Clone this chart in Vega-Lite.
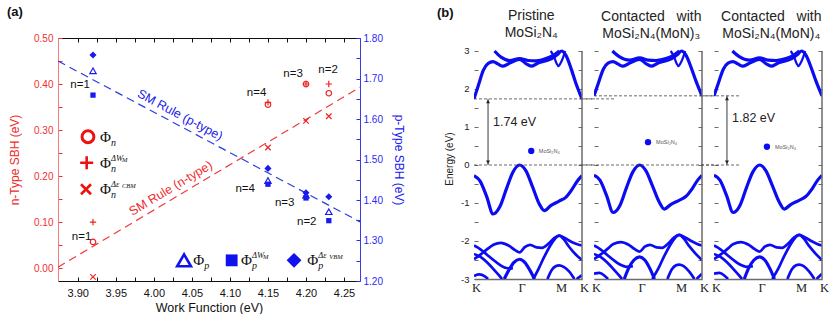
{
"$schema":"https://vega.github.io/schema/vega-lite/v6.json",
"padding":{"left":7,"top":5,"right":0,"bottom":0},
"config":{"view":{"stroke":null},"font":"Liberation Sans","point":{"opacity":1},"axis":{"grid":false,"labelFont":"Liberation Sans","titleFont":"Liberation Sans"},"text":{"font":"Liberation Sans"}},
"datasets":{
"nPts":[{"x":3.92,"y":0.057,"t":"o"},{"x":4.15,"y":0.355,"t":"o"},{"x":4.2,"y":0.4,"t":"o"},{"x":4.23,"y":0.38,"t":"o"},
{"x":3.92,"y":0.1,"t":"+"},{"x":4.15,"y":0.36,"t":"+"},{"x":4.2,"y":0.4,"t":"+"},{"x":4.23,"y":0.4,"t":"+"},
{"x":3.92,"y":-0.019,"t":"x"},{"x":4.15,"y":0.262,"t":"x"},{"x":4.2,"y":0.32,"t":"x"},{"x":4.23,"y":0.33,"t":"x"}],
"pPts":[{"x":3.92,"y":1.719,"t":"tri"},{"x":4.15,"y":1.448,"t":"tri"},{"x":4.2,"y":1.412,"t":"tri"},{"x":4.23,"y":1.371,"t":"tri"},
{"x":3.92,"y":1.659,"t":"sq"},{"x":4.15,"y":1.439,"t":"sq"},{"x":4.2,"y":1.405,"t":"sq"},{"x":4.23,"y":1.349,"t":"sq"},
{"x":3.92,"y":1.758,"t":"dia"},{"x":4.15,"y":1.478,"t":"dia"},{"x":4.2,"y":1.418,"t":"dia"},{"x":4.23,"y":1.408,"t":"dia"}],
"legN":[{"x":3.9292,"y":0.2855,"sub":"n","sup":"","sup2":""},{"x":3.9292,"y":0.229,"sub":"n","sup":"ΔW","sup2":"M"},{"x":3.9292,"y":0.1713,"sub":"n","sup":"Δε","sup2":"CBM"}],
"legP":[{"x":4.0519,"y":1.251,"sub":"p","sup":"","sup2":""},{"x":4.1146,"y":1.251,"sub":"p","sup":"ΔW","sup2":"M"},{"x":4.2018,"y":1.251,"sub":"p","sup":"Δε","sup2":"VBM"}],
"nLab":[{"x":3.903,"y":0.398,"t":"n=1"},{"x":4.135,"y":0.381,"t":"n=4"},{"x":4.183,"y":0.422,"t":"n=3"},{"x":4.229,"y":0.43,"t":"n=2"},{"x":3.905,"y":0.067,"t":"n=1"},{"x":4.12,"y":0.172,"t":"n=4"},{"x":4.172,"y":0.141,"t":"n=3"},{"x":4.201,"y":0.101,"t":"n=2"}],
"bandP":[
{"k":0,"e":1.74,"b":"c1","w":"a"},{"k":0.04,"e":2.09,"b":"c1","w":"a"},{"k":0.086,"e":2.49,"b":"c1","w":"a"},{"k":0.13,"e":2.67,"b":"c1","w":"a"},{"k":0.177,"e":2.72,"b":"c1","w":"a"},{"k":0.22,"e":2.66,"b":"c1","w":"a"},{"k":0.27,"e":2.6,"b":"c1","w":"a"},{"k":0.33,"e":2.68,"b":"c1","w":"a"},{"k":0.4226,"e":2.78,"b":"c1","w":"a"},{"k":0.48,"e":2.67,"b":"c1","w":"a"},{"k":0.53,"e":2.6,"b":"c1","w":"a"},{"k":0.59,"e":2.68,"b":"c1","w":"a"},{"k":0.65,"e":2.73,"b":"c1","w":"a"},{"k":0.72,"e":2.8,"b":"c1","w":"a"},{"k":0.77,"e":2.9,"b":"c1","w":"a"},{"k":0.81,"e":3.0,"b":"c1","w":"a"},{"k":0.85,"e":2.89,"b":"c1","w":"a"},{"k":0.9,"e":2.53,"b":"c1","w":"a"},{"k":0.94,"e":2.18,"b":"c1","w":"a"},{"k":1,"e":1.74,"b":"c1","w":"a"},
{"k":0.19,"e":3.0,"b":"c2","w":"a"},{"k":0.25,"e":2.84,"b":"c2","w":"a"},{"k":0.33,"e":2.75,"b":"c2","w":"a"},{"k":0.4226,"e":2.8,"b":"c2","w":"a"},{"k":0.5,"e":2.75,"b":"c2","w":"a"},{"k":0.575,"e":2.74,"b":"c2","w":"a"},{"k":0.667,"e":2.8,"b":"c2","w":"a"},{"k":0.743,"e":2.9,"b":"c2","w":"a"},{"k":0.79,"e":3.0,"b":"c2","w":"a"},
{"k":0.71,"e":3.0,"b":"c3","w":"c"},{"k":0.743,"e":2.84,"b":"c3","w":"c"},{"k":0.765,"e":2.67,"b":"c3","w":"c"},{"k":0.783,"e":2.6,"b":"c3","w":"c"},{"k":0.8,"e":2.67,"b":"c3","w":"c"},{"k":0.826,"e":2.84,"b":"c3","w":"c"},{"k":0.844,"e":3.0,"b":"c3","w":"c"},
{"k":0,"e":-0.28,"b":"v1","w":"a"},{"k":0.055,"e":-0.42,"b":"v1","w":"a"},{"k":0.116,"e":-0.82,"b":"v1","w":"a"},{"k":0.177,"e":-1.29,"b":"v1","w":"a"},{"k":0.239,"e":-1.1,"b":"v1","w":"a"},{"k":0.3,"e":-0.63,"b":"v1","w":"a"},{"k":0.36,"e":-0.19,"b":"v1","w":"a"},{"k":0.4226,"e":0,"b":"v1","w":"a"},{"k":0.48,"e":-0.15,"b":"v1","w":"a"},{"k":0.544,"e":-0.59,"b":"v1","w":"a"},{"k":0.605,"e":-1.03,"b":"v1","w":"a"},{"k":0.651,"e":-1.2,"b":"v1","w":"a"},{"k":0.71,"e":-1.07,"b":"v1","w":"a"},{"k":0.7886,"e":-0.95,"b":"v1","w":"a"},{"k":0.85,"e":-0.85,"b":"v1","w":"a"},{"k":0.91,"e":-0.63,"b":"v1","w":"a"},{"k":0.957,"e":-0.42,"b":"v1","w":"a"},{"k":1,"e":-0.28,"b":"v1","w":"a"},
{"k":0,"e":-2.48,"b":"v2","w":"b"},{"k":0.06,"e":-2.36,"b":"v2","w":"b"},{"k":0.12,"e":-2.22,"b":"v2","w":"b"},{"k":0.18,"e":-2.1,"b":"v2","w":"b"},{"k":0.25,"e":-2.05,"b":"v2","w":"b"},{"k":0.32,"e":-2.12,"b":"v2","w":"b"},{"k":0.38,"e":-2.24,"b":"v2","w":"b"},{"k":0.4226,"e":-2.3,"b":"v2","w":"b"},{"k":0.47,"e":-2.16,"b":"v2","w":"b"},{"k":0.52,"e":-2.1,"b":"v2","w":"b"},{"k":0.58,"e":-2.17,"b":"v2","w":"b"},{"k":0.63,"e":-2.18,"b":"v2","w":"b"},{"k":0.69,"e":-2.07,"b":"v2","w":"b"},{"k":0.74,"e":-1.93,"b":"v2","w":"b"},{"k":0.7886,"e":-1.86,"b":"v2","w":"b"},{"k":0.84,"e":-1.92,"b":"v2","w":"b"},{"k":0.9,"e":-2.02,"b":"v2","w":"b"},{"k":0.95,"e":-2.08,"b":"v2","w":"b"},{"k":1,"e":-2.12,"b":"v2","w":"b"},
{"k":0,"e":-2.12,"b":"v3","w":"b"},{"k":0.06,"e":-2.22,"b":"v3","w":"b"},{"k":0.12,"e":-2.36,"b":"v3","w":"b"},{"k":0.18,"e":-2.5,"b":"v3","w":"b"},{"k":0.24,"e":-2.63,"b":"v3","w":"b"},{"k":0.3,"e":-2.71,"b":"v3","w":"b"},{"k":0.36,"e":-2.72,"b":"v3","w":"b"},
{"k":0,"e":-2.34,"b":"v4","w":"b"},{"k":0.06,"e":-2.42,"b":"v4","w":"b"},{"k":0.12,"e":-2.56,"b":"v4","w":"b"},{"k":0.18,"e":-2.74,"b":"v4","w":"b"},{"k":0.23,"e":-2.9,"b":"v4","w":"b"},{"k":0.26,"e":-3.0,"b":"v4","w":"b"},
{"k":0.28,"e":-3.0,"b":"v5","w":"a"},{"k":0.32,"e":-2.78,"b":"v5","w":"a"},{"k":0.37,"e":-2.56,"b":"v5","w":"a"},{"k":0.4226,"e":-2.48,"b":"v5","w":"a"},{"k":0.47,"e":-2.56,"b":"v5","w":"a"},{"k":0.52,"e":-2.78,"b":"v5","w":"a"},{"k":0.56,"e":-3.0,"b":"v5","w":"a"},
{"k":0.55,"e":-3.0,"b":"v6","w":"b"},{"k":0.6,"e":-2.72,"b":"v6","w":"b"},{"k":0.65,"e":-2.42,"b":"v6","w":"b"},{"k":0.7,"e":-2.15,"b":"v6","w":"b"},{"k":0.75,"e":-1.94,"b":"v6","w":"b"},{"k":0.7886,"e":-1.86,"b":"v6","w":"b"},{"k":0.83,"e":-1.95,"b":"v6","w":"b"},{"k":0.88,"e":-2.15,"b":"v6","w":"b"},{"k":0.94,"e":-2.35,"b":"v6","w":"b"},{"k":1,"e":-2.5,"b":"v6","w":"b"},
{"k":0.68,"e":-3.0,"b":"v7","w":"b"},{"k":0.72,"e":-2.76,"b":"v7","w":"b"},{"k":0.76,"e":-2.66,"b":"v7","w":"b"},{"k":0.7886,"e":-2.64,"b":"v7","w":"b"},{"k":0.83,"e":-2.68,"b":"v7","w":"b"},{"k":0.88,"e":-2.8,"b":"v7","w":"b"},{"k":0.93,"e":-3.0,"b":"v7","w":"b"},
{"k":0,"e":-2.92,"b":"v8","w":"b"},{"k":0.05,"e":-2.88,"b":"v8","w":"b"},{"k":0.1,"e":-2.93,"b":"v8","w":"b"},{"k":0.13,"e":-3.0,"b":"v8","w":"b"},
{"k":0.95,"e":-3.0,"b":"v9","w":"b"},{"k":1,"e":-2.9,"b":"v9","w":"b"}],
"bandC":[
{"k":0,"e":1.82,"b":"c1","w":"a"},{"k":0.04,"e":2.15,"b":"c1","w":"a"},{"k":0.086,"e":2.52,"b":"c1","w":"a"},{"k":0.13,"e":2.68,"b":"c1","w":"a"},{"k":0.177,"e":2.72,"b":"c1","w":"a"},{"k":0.22,"e":2.66,"b":"c1","w":"a"},{"k":0.27,"e":2.6,"b":"c1","w":"a"},{"k":0.33,"e":2.68,"b":"c1","w":"a"},{"k":0.4226,"e":2.78,"b":"c1","w":"a"},{"k":0.48,"e":2.67,"b":"c1","w":"a"},{"k":0.53,"e":2.6,"b":"c1","w":"a"},{"k":0.59,"e":2.68,"b":"c1","w":"a"},{"k":0.65,"e":2.73,"b":"c1","w":"a"},{"k":0.72,"e":2.8,"b":"c1","w":"a"},{"k":0.77,"e":2.9,"b":"c1","w":"a"},{"k":0.81,"e":3.0,"b":"c1","w":"a"},{"k":0.85,"e":2.9,"b":"c1","w":"a"},{"k":0.9,"e":2.56,"b":"c1","w":"a"},{"k":0.94,"e":2.24,"b":"c1","w":"a"},{"k":1,"e":1.82,"b":"c1","w":"a"},
{"k":0.17,"e":3.0,"b":"c2","w":"a"},{"k":0.23,"e":2.86,"b":"c2","w":"a"},{"k":0.33,"e":2.76,"b":"c2","w":"a"},{"k":0.4226,"e":2.82,"b":"c2","w":"a"},{"k":0.5,"e":2.76,"b":"c2","w":"a"},{"k":0.575,"e":2.75,"b":"c2","w":"a"},{"k":0.667,"e":2.8,"b":"c2","w":"a"},{"k":0.743,"e":2.9,"b":"c2","w":"a"},{"k":0.79,"e":3.0,"b":"c2","w":"a"},
{"k":0.71,"e":3.0,"b":"c3","w":"c"},{"k":0.743,"e":2.84,"b":"c3","w":"c"},{"k":0.765,"e":2.67,"b":"c3","w":"c"},{"k":0.783,"e":2.6,"b":"c3","w":"c"},{"k":0.8,"e":2.67,"b":"c3","w":"c"},{"k":0.826,"e":2.84,"b":"c3","w":"c"},{"k":0.844,"e":3.0,"b":"c3","w":"c"},
{"k":0,"e":-0.27,"b":"v1","w":"a"},{"k":0.055,"e":-0.4,"b":"v1","w":"a"},{"k":0.116,"e":-0.8,"b":"v1","w":"a"},{"k":0.177,"e":-1.25,"b":"v1","w":"a"},{"k":0.239,"e":-1.07,"b":"v1","w":"a"},{"k":0.3,"e":-0.6,"b":"v1","w":"a"},{"k":0.36,"e":-0.18,"b":"v1","w":"a"},{"k":0.4226,"e":0,"b":"v1","w":"a"},{"k":0.48,"e":-0.15,"b":"v1","w":"a"},{"k":0.544,"e":-0.57,"b":"v1","w":"a"},{"k":0.605,"e":-0.98,"b":"v1","w":"a"},{"k":0.651,"e":-1.16,"b":"v1","w":"a"},{"k":0.71,"e":-1.04,"b":"v1","w":"a"},{"k":0.7886,"e":-0.93,"b":"v1","w":"a"},{"k":0.85,"e":-0.83,"b":"v1","w":"a"},{"k":0.91,"e":-0.62,"b":"v1","w":"a"},{"k":0.957,"e":-0.41,"b":"v1","w":"a"},{"k":1,"e":-0.27,"b":"v1","w":"a"},
{"k":0,"e":-2.48,"b":"v2","w":"b"},{"k":0.06,"e":-2.36,"b":"v2","w":"b"},{"k":0.12,"e":-2.22,"b":"v2","w":"b"},{"k":0.18,"e":-2.08,"b":"v2","w":"b"},{"k":0.25,"e":-2.03,"b":"v2","w":"b"},{"k":0.32,"e":-2.1,"b":"v2","w":"b"},{"k":0.38,"e":-2.22,"b":"v2","w":"b"},{"k":0.4226,"e":-2.28,"b":"v2","w":"b"},{"k":0.47,"e":-2.15,"b":"v2","w":"b"},{"k":0.52,"e":-2.1,"b":"v2","w":"b"},{"k":0.58,"e":-2.17,"b":"v2","w":"b"},{"k":0.63,"e":-2.18,"b":"v2","w":"b"},{"k":0.69,"e":-2.06,"b":"v2","w":"b"},{"k":0.74,"e":-1.91,"b":"v2","w":"b"},{"k":0.7886,"e":-1.84,"b":"v2","w":"b"},{"k":0.84,"e":-1.9,"b":"v2","w":"b"},{"k":0.9,"e":-2.0,"b":"v2","w":"b"},{"k":0.95,"e":-2.07,"b":"v2","w":"b"},{"k":1,"e":-2.12,"b":"v2","w":"b"},
{"k":0,"e":-2.12,"b":"v3","w":"b"},{"k":0.06,"e":-2.22,"b":"v3","w":"b"},{"k":0.12,"e":-2.36,"b":"v3","w":"b"},{"k":0.18,"e":-2.5,"b":"v3","w":"b"},{"k":0.24,"e":-2.62,"b":"v3","w":"b"},{"k":0.3,"e":-2.68,"b":"v3","w":"b"},{"k":0.36,"e":-2.66,"b":"v3","w":"b"},
{"k":0,"e":-2.34,"b":"v4","w":"b"},{"k":0.06,"e":-2.42,"b":"v4","w":"b"},{"k":0.12,"e":-2.56,"b":"v4","w":"b"},{"k":0.18,"e":-2.74,"b":"v4","w":"b"},{"k":0.23,"e":-2.9,"b":"v4","w":"b"},{"k":0.26,"e":-3.0,"b":"v4","w":"b"},
{"k":0.28,"e":-3.0,"b":"v5","w":"a"},{"k":0.32,"e":-2.72,"b":"v5","w":"a"},{"k":0.37,"e":-2.5,"b":"v5","w":"a"},{"k":0.4226,"e":-2.42,"b":"v5","w":"a"},{"k":0.47,"e":-2.5,"b":"v5","w":"a"},{"k":0.52,"e":-2.74,"b":"v5","w":"a"},{"k":0.56,"e":-3.0,"b":"v5","w":"a"},
{"k":0.54,"e":-3.0,"b":"v6","w":"b"},{"k":0.6,"e":-2.7,"b":"v6","w":"b"},{"k":0.65,"e":-2.4,"b":"v6","w":"b"},{"k":0.7,"e":-2.13,"b":"v6","w":"b"},{"k":0.75,"e":-1.92,"b":"v6","w":"b"},{"k":0.7886,"e":-1.84,"b":"v6","w":"b"},{"k":0.83,"e":-1.93,"b":"v6","w":"b"},{"k":0.88,"e":-2.13,"b":"v6","w":"b"},{"k":0.94,"e":-2.33,"b":"v6","w":"b"},{"k":1,"e":-2.5,"b":"v6","w":"b"},
{"k":0.68,"e":-3.0,"b":"v7","w":"b"},{"k":0.72,"e":-2.75,"b":"v7","w":"b"},{"k":0.76,"e":-2.64,"b":"v7","w":"b"},{"k":0.7886,"e":-2.62,"b":"v7","w":"b"},{"k":0.83,"e":-2.66,"b":"v7","w":"b"},{"k":0.88,"e":-2.8,"b":"v7","w":"b"},{"k":0.93,"e":-3.0,"b":"v7","w":"b"},
{"k":0,"e":-2.86,"b":"v8","w":"b"},{"k":0.05,"e":-2.84,"b":"v8","w":"b"},{"k":0.1,"e":-2.92,"b":"v8","w":"b"},{"k":0.13,"e":-3.0,"b":"v8","w":"b"},
{"k":0.95,"e":-3.0,"b":"v9","w":"b"},{"k":1,"e":-2.86,"b":"v9","w":"b"}]
},
"hconcat":[
{
"width":302,"height":243,
"layer":[
{
"encoding":{
"x":{"field":"x","type":"quantitative","scale":{"domain":[3.874,4.271],"nice":false,"zero":false},
"axis":{"orient":"bottom","values":[3.9,3.925,3.95,3.975,4.0,4.025,4.05,4.075,4.1,4.125,4.15,4.175,4.2,4.225,4.25],"labelExpr":"round(datum.value*1000) % 50 === 0 ? format(datum.value, '.2f') : ''","labelOverlap":false,"labelFlush":false,"tickSize":-4,"tickColor":"#111","domainColor":"#111","labelPadding":10,"labelFontSize":11,"labelColor":"#111","title":"Work Function (eV)","titleFontSize":12.5,"titleFontWeight":"normal","titleColor":"#111","titlePadding":3}},
"y":{"field":"y","type":"quantitative","scale":{"domain":[-0.028,0.5],"nice":false,"zero":false},
"axis":{"orient":"left","values":[0,0.05,0.1,0.15,0.2,0.25,0.3,0.35,0.4,0.45,0.5],"labelExpr":"round(datum.value*100) % 10 === 0 ? format(datum.value, '.2f') : ''","labelOverlap":false,"labelFlush":false,"tickSize":-4,"tickColor":"#ee3030","domainColor":"#f47c7c","labelPadding":9,"labelFontSize":10,"labelColor":"#f03030","title":"n-Type SBH (eV)","titleFontSize":12,"titleFontWeight":"normal","titleColor":"#f02a2a","titlePadding":12}}
},
"layer":[
{"data":{"values":[{"x":3.874,"y":0.002},{"x":4.271,"y":0.393}]},"mark":{"type":"line","color":"#f03a3a","strokeDash":[8,5],"strokeWidth":1.2},"encoding":{}},
{"data":{"name":"nPts"},"transform":[{"filter":"datum.t === 'o'"}],"mark":{"type":"point","shape":"circle","filled":false,"color":"#ee2222","size":30,"strokeWidth":1.2}},
{"data":{"name":"nPts"},"transform":[{"filter":"datum.t === '+'"}],"mark":{"type":"point","shape":"M-1,0L1,0M0,-1L0,1","filled":false,"color":"#ee2222","size":40,"strokeWidth":1.2}},
{"data":{"name":"nPts"},"transform":[{"filter":"datum.t === 'x'"}],"mark":{"type":"point","shape":"M-1,-1L1,1M-1,1L1,-1","filled":false,"color":"#ee2222","size":30,"strokeWidth":1.2}},
{"data":{"values":[{"x":3.9134,"y":0.2855}]},"mark":{"type":"point","shape":"circle","filled":false,"color":"#ee1111","size":140,"strokeWidth":3}},
{"data":{"values":[{"x":3.9117,"y":0.229}]},"mark":{"type":"point","shape":"M-1,0L1,0M0,-1L0,1","filled":false,"color":"#ee1111","size":170,"strokeWidth":2.6}},
{"data":{"values":[{"x":3.9108,"y":0.1713}]},"mark":{"type":"point","shape":"M-1,-1L1,1M-1,1L1,-1","filled":false,"color":"#ee1111","size":100,"strokeWidth":2.6}},
{"data":{"name":"legN"},"mark":{"type":"text","align":"left","baseline":"middle","font":"Liberation Serif","fontSize":15,"color":"#111"},"encoding":{"text":{"value":"Φ"}}},
{"data":{"name":"legN"},"mark":{"type":"text","align":"left","baseline":"middle","font":"Liberation Serif","fontStyle":"italic","fontSize":10,"dx":11,"dy":6,"color":"#111"},"encoding":{"text":{"field":"sub"}}},
{"data":{"name":"legN"},"mark":{"type":"text","align":"left","baseline":"middle","font":"Liberation Serif","fontStyle":"italic","fontSize":8.5,"dx":11,"dy":-5,"color":"#111"},"encoding":{"text":{"field":"sup"}}},
{"data":{"name":"legN"},"mark":{"type":"text","align":"left","baseline":"middle","font":"Liberation Serif","fontStyle":"italic","fontSize":6.5,"dx":22,"dy":-3,"color":"#111"},"encoding":{"text":{"field":"sup2"}}},
{"data":{"name":"nLab"},"mark":{"type":"text","align":"center","baseline":"middle","fontSize":11.5,"color":"#111"},"encoding":{"text":{"field":"t"}}},
{"data":{"values":[{"x":4.0222,"y":0.1734,"t":"SM Rule (n-type)"}]},"mark":{"type":"text","align":"center","baseline":"middle","fontSize":12.5,"angle":329,"color":"#f02a2a"},"encoding":{"text":{"field":"t"}}},
{"data":{"values":[{"x":3.807,"y":0.5565,"t":"(a)"}]},"mark":{"type":"text","align":"left","baseline":"middle","fontSize":13,"fontWeight":"bold","color":"#111"},"encoding":{"text":{"field":"t"}}}
]
},
{
"encoding":{
"x":{"field":"x","type":"quantitative","scale":{"domain":[3.874,4.271],"nice":false,"zero":false},
"axis":{"orient":"top","values":[3.9,3.925,3.95,3.975,4.0,4.025,4.05,4.075,4.1,4.125,4.15,4.175,4.2,4.225,4.25],"labels":false,"tickSize":-4,"tickColor":"#111","domainColor":"#111","title":null}},
"y":{"field":"y","type":"quantitative","scale":{"domain":[1.2,1.8],"nice":false,"zero":false},
"axis":{"orient":"right","values":[1.2,1.25,1.3,1.35,1.4,1.45,1.5,1.55,1.6,1.65,1.7,1.75,1.8],"labelExpr":"round(datum.value*100) % 10 === 0 ? format(datum.value, '.2f') : ''","labelOverlap":false,"labelFlush":false,"tickSize":-4,"tickColor":"#2a2af0","domainColor":"#3a3af5","labelPadding":7,"labelFontSize":10,"labelColor":"#2a2af5","title":"p-Type SBH (eV)","titleFontSize":12,"titleFontWeight":"normal","titleColor":"#2020f0","titlePadding":9}}
},
"layer":[
{"data":{"values":[{"x":3.874,"y":1.743},{"x":4.271,"y":1.346}]},"mark":{"type":"line","color":"#2a3ce0","strokeDash":[8,5],"strokeWidth":1.2},"encoding":{}},
{"data":{"name":"pPts"},"transform":[{"filter":"datum.t === 'tri'"}],"mark":{"type":"point","shape":"triangle-up","filled":false,"color":"#1a1af0","size":40,"strokeWidth":1.2}},
{"data":{"name":"pPts"},"transform":[{"filter":"datum.t === 'sq'"}],"mark":{"type":"point","shape":"square","filled":true,"color":"#1a1af0","size":28}},
{"data":{"name":"pPts"},"transform":[{"filter":"datum.t === 'dia'"}],"mark":{"type":"point","shape":"diamond","filled":true,"color":"#1a1af0","size":50}},
{"data":{"values":[{"x":4.0397,"y":1.251}]},"mark":{"type":"point","shape":"triangle-up","filled":false,"color":"#1111ee","size":190,"strokeWidth":2.6}},
{"data":{"values":[{"x":4.1023,"y":1.251}]},"mark":{"type":"point","shape":"square","filled":true,"color":"#1111ee","size":140}},
{"data":{"values":[{"x":4.1843,"y":1.251}]},"mark":{"type":"point","shape":"diamond","filled":true,"color":"#1111ee","size":220}},
{"data":{"name":"legP"},"mark":{"type":"text","align":"left","baseline":"middle","font":"Liberation Serif","fontSize":15,"color":"#111"},"encoding":{"text":{"value":"Φ"}}},
{"data":{"name":"legP"},"mark":{"type":"text","align":"left","baseline":"middle","font":"Liberation Serif","fontStyle":"italic","fontSize":10,"dx":11,"dy":6,"color":"#111"},"encoding":{"text":{"field":"sub"}}},
{"data":{"name":"legP"},"mark":{"type":"text","align":"left","baseline":"middle","font":"Liberation Serif","fontStyle":"italic","fontSize":8.5,"dx":11,"dy":-5,"color":"#111"},"encoding":{"text":{"field":"sup"}}},
{"data":{"name":"legP"},"mark":{"type":"text","align":"left","baseline":"middle","font":"Liberation Serif","fontStyle":"italic","fontSize":6.5,"dx":22,"dy":-3,"color":"#111"},"encoding":{"text":{"field":"sup2"}}},
{"data":{"values":[{"x":4.0344,"y":1.61,"t":"SM Rule (p-type)"}]},"mark":{"type":"text","align":"center","baseline":"middle","fontSize":12.5,"angle":28,"color":"#2020e8"},"encoding":{"text":{"field":"t"}}}
]
}
],
"resolve":{"scale":{"y":"independent"},"axis":{"x":"independent","y":"independent"}}
},
{"width":90,"height":243,"data":{"values":[]},"mark":"point"},
{
"width":108,"height":241,
"layer":[
{
"encoding":{
"x":{"field":"k","type":"quantitative","scale":{"domain":[0,1],"nice":false,"zero":false},"axis":{"values":[0,0.4226,0.7886,1],"labelExpr":"datum.value < 0.2 ? 'K' : (datum.value < 0.6 ? 'Γ' : (datum.value < 0.9 ? 'M' : 'K'))","ticks":false,"domainColor":"#6b6b6b","domainWidth":1.5,"labelFont":"Liberation Serif","labelFontSize":12.5,"labelColor":"#222","labelPadding":2,"labelFlush":false,"labelOverlap":false,"labelOffset":2,"title":null}},
"y":{"field":"e","type":"quantitative","scale":{"domain":[-3,3.342],"nice":false,"zero":false},"axis":{"values":[-3,-2.5,-2,-1.5,-1,-0.5,0,0.5,1,1.5,2,2.5,3],"labelExpr":"datum.value % 1 === 0 ? toString(datum.value) : ''","tickSize":-4,"tickColor":"#6b6b6b","labelPadding":9,"labelFontSize":9.5,"labelColor":"#222","labelFlush":false,"labelOverlap":false,"domain":false,"title":"Energy (eV)","titleFontSize":10,"titleFontWeight":"normal","titleColor":"#222","titlePadding":6}}
},
"layer":[
{"data":{"values":[{"k":0.4226},{"k":0.7886}]},"mark":{"type":"rule","color":"#c8c8c8","strokeDash":[1.5,1.5],"strokeWidth":0.8},"encoding":{"y":{"datum":-3,"type":"quantitative"},"y2":{"datum":3}}},
{"data":{"name":"bandP"},"mark":{"type":"line","interpolate":"monotone","clip":true,"color":"#0c0cf2"},"encoding":{"detail":{"field":"b"},"strokeWidth":{"field":"w","type":"ordinal","scale":{"domain":["a","b","c"],"range":[3.2,2.2,1.1]},"legend":null}}},
{"data":{"values":[{"k":0,"k2":1.12,"e":0},{"k":0,"k2":1.12,"e":1.74}]},"mark":{"type":"rule","color":"#444","strokeDash":[3,2],"strokeWidth":0.8},"encoding":{"x2":{"field":"k2"}}},
{"data":{"values":[{"k":0.13,"e":0,"e2":1.74}]},"mark":{"type":"rule","color":"#222","strokeWidth":0.9},"encoding":{"y2":{"field":"e2"}}},
{"data":{"values":[{"k":0.13,"e":1.67,"d":"up"},{"k":0.13,"e":0.07,"d":"down"}]},"mark":{"type":"point","filled":true,"color":"#222","size":16},"encoding":{"shape":{"field":"d","type":"nominal","scale":{"domain":["up","down"],"range":["triangle-up","triangle-down"]},"legend":null}}},
{"data":{"values":[{"k":0.176,"e":1.13,"t":"1.74 eV"}]},"mark":{"type":"text","align":"left","baseline":"middle","fontSize":12.5,"color":"#222"},"encoding":{"text":{"field":"t"}}},
{"data":{"values":[{"k":0.53,"e":0.37}]},"mark":{"type":"point","filled":true,"shape":"circle","size":40,"color":"#0c0cf2"}},
{"data":{"values":[{"k":0.6,"e":0.37,"t":"MoSi₂N₄"}]},"mark":{"type":"text","align":"left","baseline":"middle","fontSize":5.5,"color":"#555"},"encoding":{"text":{"field":"t"}}},
{"data":{"values":[{"k":0.53,"e":3.93,"t":"Pristine"},{"k":0.53,"e":3.47,"t":"MoSi₂N₄"}]},"mark":{"type":"text","align":"center","baseline":"middle","fontSize":14,"color":"#222"},"encoding":{"text":{"field":"t"}}},
{"data":{"values":[{"k":-0.343,"e":4.0,"t":"(b)"}]},"mark":{"type":"text","align":"left","baseline":"middle","fontSize":13,"fontWeight":"bold","color":"#111"},"encoding":{"text":{"field":"t"}}},
{"data":{"values":[{}]},"mark":{"type":"rule","color":"#6b6b6b","strokeWidth":1.5},"encoding":{"x":{"datum":0,"type":"quantitative"},"x2":{"datum":1},"y":{"datum":3,"type":"quantitative"}}},
{"data":{"values":[{}]},"mark":{"type":"rule","color":"#6b6b6b","strokeWidth":1.5},"encoding":{"x":{"datum":0,"type":"quantitative"},"y":{"datum":-3,"type":"quantitative"},"y2":{"datum":3}}}
]
},
{"data":{"values":[{}]},"mark":{"type":"rule","color":"#6b6b6b","strokeWidth":1.5},"encoding":{"x":{"datum":1,"type":"quantitative","scale":{"domain":[0,1],"nice":false,"zero":false},"axis":{"values":[0,0.4226,0.7886,1],"labelExpr":"datum.value < 0.2 ? 'K' : (datum.value < 0.6 ? 'Γ' : (datum.value < 0.9 ? 'M' : 'K'))","ticks":false,"domainColor":"#6b6b6b","domainWidth":1.5,"labelFont":"Liberation Serif","labelFontSize":12.5,"labelColor":"#222","labelPadding":2,"labelFlush":false,"labelOverlap":false,"labelOffset":2,"title":null}},"y":{"datum":-3,"type":"quantitative","axis":{"orient":"right","values":[-3,-2.5,-2,-1.5,-1,-0.5,0,0.5,1,1.5,2,2.5,3],"labels":false,"tickSize":-4,"tickColor":"#6b6b6b","domain":false,"title":null}},"y2":{"datum":3}}}
],
"resolve":{"axis":{"y":"independent"}}
},
{
"width":108,"height":241,
"layer":[
{
"encoding":{
"x":{"field":"k","type":"quantitative","scale":{"domain":[0,1],"nice":false,"zero":false},"axis":{"values":[0,0.4226,0.7886,1],"labelExpr":"datum.value < 0.2 ? 'K' : (datum.value < 0.6 ? 'Γ' : (datum.value < 0.9 ? 'M' : 'K'))","ticks":false,"domainColor":"#6b6b6b","domainWidth":1.5,"labelFont":"Liberation Serif","labelFontSize":12.5,"labelColor":"#222","labelPadding":2,"labelFlush":false,"labelOverlap":false,"labelOffset":2,"title":null}},
"y":{"field":"e","type":"quantitative","scale":{"domain":[-3,3.342],"nice":false,"zero":false},"axis":{"values":[-3,-2.5,-2,-1.5,-1,-0.5,0,0.5,1,1.5,2,2.5,3],"labels":false,"tickSize":-4,"tickColor":"#6b6b6b","domain":false,"title":null}}
},
"layer":[
{"data":{"values":[{"k":0.4226},{"k":0.7886}]},"mark":{"type":"rule","color":"#c8c8c8","strokeDash":[1.5,1.5],"strokeWidth":0.8},"encoding":{"y":{"datum":-3,"type":"quantitative"},"y2":{"datum":3}}},
{"data":{"name":"bandC"},"mark":{"type":"line","interpolate":"monotone","clip":true,"color":"#0c0cf2"},"encoding":{"detail":{"field":"b"},"strokeWidth":{"field":"w","type":"ordinal","scale":{"domain":["a","b","c"],"range":[3.2,2.2,1.1]},"legend":null}}},
{"data":{"values":[{"k":-0.12,"k2":1.12,"e":0},{"k":-0.12,"k2":0.2,"e":1.74},{"k":0,"k2":1.12,"e":1.82}]},"mark":{"type":"rule","color":"#444","strokeDash":[3,2],"strokeWidth":0.8},"encoding":{"x2":{"field":"k2"}}},
{"data":{"values":[{"k":0.5,"e":0.6}]},"mark":{"type":"point","filled":true,"shape":"circle","size":40,"color":"#0c0cf2"}},
{"data":{"values":[{"k":0.575,"e":0.6,"t":"MoSi₂N₄"}]},"mark":{"type":"text","align":"left","baseline":"middle","fontSize":5.5,"color":"#555"},"encoding":{"text":{"field":"t"}}},
{"data":{"values":[{"k":0.53,"e":3.9,"t":"Contacted\u00a0\u00a0\u00a0with"},{"k":0.53,"e":3.46,"t":"MoSi₂N₄(MoN)₃"}]},"mark":{"type":"text","align":"center","baseline":"middle","fontSize":14,"color":"#222"},"encoding":{"text":{"field":"t"}}},
{"data":{"values":[{}]},"mark":{"type":"rule","color":"#6b6b6b","strokeWidth":1.5},"encoding":{"x":{"datum":0,"type":"quantitative"},"x2":{"datum":1},"y":{"datum":3,"type":"quantitative"}}},
{"data":{"values":[{}]},"mark":{"type":"rule","color":"#6b6b6b","strokeWidth":1.5},"encoding":{"x":{"datum":0,"type":"quantitative"},"y":{"datum":-3,"type":"quantitative"},"y2":{"datum":3}}}
]
},
{"data":{"values":[{}]},"mark":{"type":"rule","color":"#6b6b6b","strokeWidth":1.5},"encoding":{"x":{"datum":1,"type":"quantitative","scale":{"domain":[0,1],"nice":false,"zero":false},"axis":{"values":[0,0.4226,0.7886,1],"labelExpr":"datum.value < 0.2 ? 'K' : (datum.value < 0.6 ? 'Γ' : (datum.value < 0.9 ? 'M' : 'K'))","ticks":false,"domainColor":"#6b6b6b","domainWidth":1.5,"labelFont":"Liberation Serif","labelFontSize":12.5,"labelColor":"#222","labelPadding":2,"labelFlush":false,"labelOverlap":false,"labelOffset":2,"title":null}},"y":{"datum":-3,"type":"quantitative","axis":{"orient":"right","values":[-3,-2.5,-2,-1.5,-1,-0.5,0,0.5,1,1.5,2,2.5,3],"labels":false,"tickSize":-4,"tickColor":"#6b6b6b","domain":false,"title":null}},"y2":{"datum":3}}}
],
"resolve":{"axis":{"y":"independent"}}
},
{
"width":108,"height":241,
"layer":[
{
"encoding":{
"x":{"field":"k","type":"quantitative","scale":{"domain":[0,1],"nice":false,"zero":false},"axis":{"values":[0,0.4226,0.7886,1],"labelExpr":"datum.value < 0.2 ? 'K' : (datum.value < 0.6 ? 'Γ' : (datum.value < 0.9 ? 'M' : 'K'))","ticks":false,"domainColor":"#6b6b6b","domainWidth":1.5,"labelFont":"Liberation Serif","labelFontSize":12.5,"labelColor":"#222","labelPadding":2,"labelFlush":false,"labelOverlap":false,"labelOffset":2,"title":null}},
"y":{"field":"e","type":"quantitative","scale":{"domain":[-3,3.342],"nice":false,"zero":false},"axis":{"values":[-3,-2.5,-2,-1.5,-1,-0.5,0,0.5,1,1.5,2,2.5,3],"labels":false,"tickSize":-4,"tickColor":"#6b6b6b","domain":false,"title":null}}
},
"layer":[
{"data":{"values":[{"k":0.4226},{"k":0.7886}]},"mark":{"type":"rule","color":"#c8c8c8","strokeDash":[1.5,1.5],"strokeWidth":0.8},"encoding":{"y":{"datum":-3,"type":"quantitative"},"y2":{"datum":3}}},
{"data":{"name":"bandC"},"mark":{"type":"line","interpolate":"monotone","clip":true,"color":"#0c0cf2"},"encoding":{"detail":{"field":"b"},"strokeWidth":{"field":"w","type":"ordinal","scale":{"domain":["a","b","c"],"range":[3.2,2.2,1.1]},"legend":null}}},
{"data":{"values":[{"k":-0.12,"k2":0.24,"e":0},{"k":-0.12,"k2":0.24,"e":1.82}]},"mark":{"type":"rule","color":"#444","strokeDash":[3,2],"strokeWidth":0.8},"encoding":{"x2":{"field":"k2"}}},
{"data":{"values":[{"k":0.12,"e":0,"e2":1.82}]},"mark":{"type":"rule","color":"#222","strokeWidth":0.9},"encoding":{"y2":{"field":"e2"}}},
{"data":{"values":[{"k":0.12,"e":1.75,"d":"up"},{"k":0.12,"e":0.07,"d":"down"}]},"mark":{"type":"point","filled":true,"color":"#222","size":16},"encoding":{"shape":{"field":"d","type":"nominal","scale":{"domain":["up","down"],"range":["triangle-up","triangle-down"]},"legend":null}}},
{"data":{"values":[{"k":0.167,"e":1.24,"t":"1.82 eV"}]},"mark":{"type":"text","align":"left","baseline":"middle","fontSize":12.5,"color":"#222"},"encoding":{"text":{"field":"t"}}},
{"data":{"values":[{"k":0.49,"e":0.48}]},"mark":{"type":"point","filled":true,"shape":"circle","size":40,"color":"#0c0cf2"}},
{"data":{"values":[{"k":0.565,"e":0.48,"t":"MoSi₂N₄"}]},"mark":{"type":"text","align":"left","baseline":"middle","fontSize":5.5,"color":"#555"},"encoding":{"text":{"field":"t"}}},
{"data":{"values":[{"k":0.53,"e":3.9,"t":"Contacted\u00a0\u00a0\u00a0with"},{"k":0.53,"e":3.46,"t":"MoSi₂N₄(MoN)₄"}]},"mark":{"type":"text","align":"center","baseline":"middle","fontSize":14,"color":"#222"},"encoding":{"text":{"field":"t"}}},
{"data":{"values":[{}]},"mark":{"type":"rule","color":"#6b6b6b","strokeWidth":1.5},"encoding":{"x":{"datum":0,"type":"quantitative"},"x2":{"datum":1},"y":{"datum":3,"type":"quantitative"}}},
{"data":{"values":[{}]},"mark":{"type":"rule","color":"#6b6b6b","strokeWidth":1.5},"encoding":{"x":{"datum":0,"type":"quantitative"},"y":{"datum":-3,"type":"quantitative"},"y2":{"datum":3}}}
]
},
{"data":{"values":[{}]},"mark":{"type":"rule","color":"#6b6b6b","strokeWidth":1.5},"encoding":{"x":{"datum":1,"type":"quantitative","scale":{"domain":[0,1],"nice":false,"zero":false},"axis":{"values":[0,0.4226,0.7886,1],"labelExpr":"datum.value < 0.2 ? 'K' : (datum.value < 0.6 ? 'Γ' : (datum.value < 0.9 ? 'M' : 'K'))","ticks":false,"domainColor":"#6b6b6b","domainWidth":1.5,"labelFont":"Liberation Serif","labelFontSize":12.5,"labelColor":"#222","labelPadding":2,"labelFlush":false,"labelOverlap":false,"labelOffset":2,"title":null}},"y":{"datum":-3,"type":"quantitative","axis":{"orient":"right","values":[-3,-2.5,-2,-1.5,-1,-0.5,0,0.5,1,1.5,2,2.5,3],"labels":false,"tickSize":-4,"tickColor":"#6b6b6b","domain":false,"title":null}},"y2":{"datum":3}}}
],
"resolve":{"axis":{"y":"independent"}}
}
],
"spacing":12,
"bounds":"flush"
}
